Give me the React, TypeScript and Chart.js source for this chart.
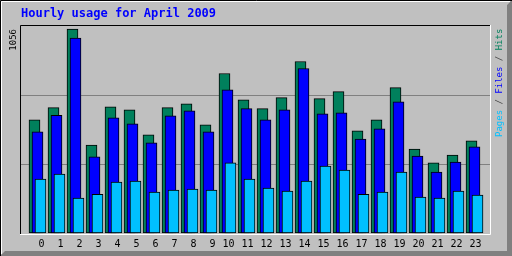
import { useEffect, useRef } from "react";
import { Chart, registerables } from "chart.js";

Chart.register(...registerables);

const hours = [0, 1, 2, 3, 4, 5, 6, 7, 8, 9, 10, 11, 12, 13, 14, 15, 16, 17, 18, 19, 20, 21, 22, 23];
const hourLabels = hours.map((h) => String(h));
const hits = [586, 649, 1056, 456, 654, 638, 508, 649, 669, 560, 826, 690, 644, 701, 888, 696, 732, 529, 586, 753, 435, 363, 404, 477];
const files = [524, 609, 1009, 394, 597, 565, 467, 607, 633, 524, 742, 644, 586, 638, 852, 617, 623, 487, 539, 680, 399, 316, 368, 446];
const pages = [279, 305, 181, 201, 264, 269, 212, 222, 227, 222, 363, 279, 233, 217, 269, 347, 326, 201, 212, 316, 186, 181, 217, 196];
const yMaxLabel = "1056";
const titleText = "Hourly usage for April 2009";
const seriesNames = ["Pages", "Files", "Hits"];

const BG = "#c0c0c0";
const HIT = "#00805c";
const FILE = "#0000ff";
const PAGE = "#00c0ff";
const MONO = "'DejaVu Sans Mono', monospace";

const webalizerPlugin = {
  id: "webalizer",
  beforeDraw(chart: any) {
    const { ctx, width, height } = chart;
    ctx.save();
    ctx.fillStyle = BG;
    ctx.fillRect(0, 0, width, height);
    ctx.restore();
  },
  beforeDatasetDraw(chart: any, args: any) {
    const ds = chart.data.datasets[args.index];
    chart.ctx.save();
    chart.ctx.translate(ds.shift || 0, 0);
  },
  afterDatasetDraw(chart: any) {
    chart.ctx.restore();
  },
  afterDraw(chart: any) {
    const { ctx, width, height, chartArea } = chart;
    const { left, top, right, bottom } = chartArea;
    ctx.save();
    ctx.lineWidth = 1;
    // plot frame (inset)
    ctx.strokeStyle = "#000000";
    ctx.beginPath();
    ctx.moveTo(left - 0.5, bottom + 1);
    ctx.lineTo(left - 0.5, top - 0.5);
    ctx.lineTo(right + 1, top - 0.5);
    ctx.stroke();
    ctx.strokeStyle = "#ffffff";
    ctx.beginPath();
    ctx.moveTo(left - 1, bottom + 0.5);
    ctx.lineTo(right + 0.5, bottom + 0.5);
    ctx.lineTo(right + 0.5, top - 1);
    ctx.stroke();

    // outer raised border
    ctx.fillStyle = "#808080";
    ctx.beginPath();
    ctx.moveTo(width, 0);
    ctx.lineTo(width, height);
    ctx.lineTo(0, height);
    ctx.lineTo(5, height - 5);
    ctx.lineTo(width - 5, height - 5);
    ctx.lineTo(width - 5, 5);
    ctx.closePath();
    ctx.fill();
    ctx.strokeStyle = "#ffffff";
    ctx.beginPath();
    ctx.moveTo(1.5, height - 2);
    ctx.lineTo(1.5, 1.5);
    ctx.lineTo(width - 2, 1.5);
    ctx.stroke();
    ctx.strokeStyle = "#000000";
    ctx.beginPath();
    ctx.moveTo(0.5, height);
    ctx.lineTo(0.5, 0.5);
    ctx.lineTo(width, 0.5);
    ctx.stroke();

    // max value label (rotated)
    ctx.font = `9px ${MONO}`;
    ctx.fillStyle = "#000000";
    ctx.save();
    ctx.translate(13.5, top + 3);
    ctx.rotate(-Math.PI / 2);
    ctx.textAlign = "right";
    ctx.textBaseline = "middle";
    ctx.fillText(yMaxLabel, 0, 0);
    ctx.restore();

    // legend (rotated, multi-colour)
    ctx.save();
    ctx.translate(499.5, 137);
    ctx.rotate(-Math.PI / 2);
    ctx.textAlign = "left";
    ctx.textBaseline = "middle";
    const colors = [PAGE, FILE, HIT];
    let x = 0;
    seriesNames.forEach((name, i) => {
      ctx.fillStyle = colors[i];
      ctx.fillText(name, x, 0);
      x += ctx.measureText(name).width;
      if (i < seriesNames.length - 1) {
        ctx.fillStyle = "#404040";
        ctx.fillText(" / ", x, 0);
        x += ctx.measureText(" / ").width;
      }
    });
    ctx.restore();
    ctx.restore();
  },
};

export default function App() {
  const ref = useRef<HTMLCanvasElement | null>(null);
  useEffect(() => {
    document.body.style.margin = "0";
    if (!ref.current) return;
    const mk = (vals: number[]) => hours.map((h, i) => ({ x: h, y: vals[i] }));
    const common = {
      borderColor: "#000000",
      borderWidth: 1,
      borderSkipped: false,
      barThickness: 11,
      grouped: false,
    };
    const chart = new Chart(ref.current, {
      type: "bar",
      data: {
        datasets: [
          { label: seriesNames[0], data: mk(pages), backgroundColor: PAGE, shift: 3, ...common } as any,
          { label: seriesNames[1], data: mk(files), backgroundColor: FILE, shift: 0, ...common } as any,
          { label: seriesNames[2], data: mk(hits), backgroundColor: HIT, shift: -3, ...common } as any,
        ],
      },
      options: {
        animation: false,
        responsive: false,
        devicePixelRatio: 1,
        layout: { padding: { left: 21, right: 22, top: 0, bottom: 6 } },
        plugins: {
          legend: { display: false },
          tooltip: { enabled: false },
          title: {
            display: true,
            text: titleText,
            align: "start",
            color: "#0000ff",
            font: { family: MONO, size: 12, weight: "bold", lineHeight: 1.2 },
            padding: { top: 7, bottom: 4.6 },
          },
        },
        scales: {
          x: {
            type: "linear",
            offset: false,
            min: -0.868,
            max: 23.816,
            grid: { display: false, drawTicks: false },
            border: { display: false },
            afterBuildTicks: (scale: any) => {
              scale.ticks = hours.map((h) => ({ value: h }));
            },
            afterFit: (scale: any) => {
              scale.height = 16;
            },
            ticks: {
              autoSkip: false,
              maxRotation: 0,
              align: "end",
              labelOffset: 7,
              padding: 4,
              color: "#000000",
              font: { family: MONO, size: 10 },
              callback: (v: any) => hourLabels[hours.indexOf(Number(v))] ?? "",
            },
          },
          y: {
            type: "linear",
            min: -5,
            max: 1072,
            border: { display: false },
            grid: { color: "#808080", lineWidth: 1, drawTicks: false },
            afterBuildTicks: (scale: any) => {
              const r = scale.max - scale.min;
              scale.ticks = [{ value: scale.min + r / 3 }, { value: scale.min + (2 * r) / 3 }];
            },
            afterFit: (scale: any) => {
              scale.width = 0;
            },
            ticks: { display: false },
          },
        },
      },
      plugins: [webalizerPlugin],
    } as any);
    return () => chart.destroy();
  }, []);
  return <canvas ref={ref} width={512} height={256} style={{ display: "block" }} />;
}
